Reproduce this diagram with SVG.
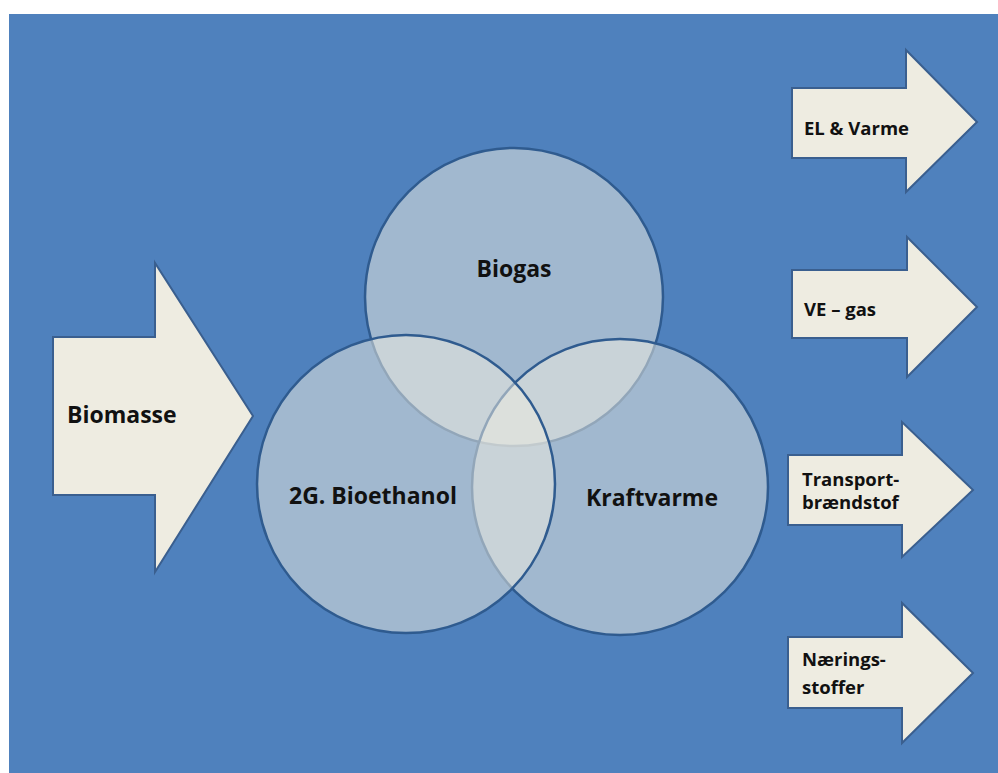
<svg xmlns="http://www.w3.org/2000/svg" width="998" height="773" viewBox="0 0 998 773">
<style>
.arrow{fill:#EEECE1;stroke:#3A5F8F;stroke-width:2;stroke-linejoin:miter}
.circ{fill:#EEECE1;fill-opacity:0.52;stroke:#2F5B8F;stroke-width:2.5}
.lbl{font-family:"Open Sans","Liberation Sans",sans-serif;font-weight:700;fill:#111}
.big{font-size:23px}
.small{font-size:18.5px}
</style>
<rect x="0" y="0" width="998" height="773" fill="#ffffff"/>
<rect x="9" y="14" width="989" height="759" fill="#4F81BD"/>
<g id="circles">
<g id="biogas">
<circle class="circ" cx="514" cy="297" r="149"/>
<text class="lbl big" x="514" y="277" text-anchor="middle">Biogas</text>
</g>
<g id="kraftvarme">
<circle class="circ" cx="620" cy="487" r="148"/>
</g>
<g id="bioethanol">
<circle class="circ" cx="406" cy="484" r="149"/>
</g>
<text class="lbl big" x="373" y="504" text-anchor="middle">2G. Bioethanol</text>
<text class="lbl big" x="652" y="506" text-anchor="middle">Kraftvarme</text>
</g>
<g id="biomasse">
<polygon class="arrow" points="53,337 155,337 155,263 253,416 155,572 155,495 53,495"/>
<text class="lbl big" x="67" y="423">Biomasse</text>
</g>
<g id="el-varme">
<polygon class="arrow" points="792,88 906,88 906,50 977,122 906,192 906,158 792,158"/>
<text class="lbl small" x="804" y="135">EL &amp; Varme</text>
</g>
<g id="ve-gas">
<polygon class="arrow" points="792,270 907,270 907,237 977,307 907,377 907,338 792,338"/>
<text class="lbl small" x="804" y="316">VE – gas</text>
</g>
<g id="transport">
<polygon class="arrow" points="788,455 902,455 902,422 973,490 902,557 902,525 788,525"/>
<text class="lbl small" x="802" y="486">Transport-</text>
<text class="lbl small" x="802" y="509">brændstof</text>
</g>
<g id="naering">
<polygon class="arrow" points="788,637 902,637 902,603 973,673 902,743 902,708 788,708"/>
<text class="lbl small" x="802" y="666">Nærings-</text>
<text class="lbl small" x="802" y="694">stoffer</text>
</g>
<g id="connectors"></g>
</svg>
